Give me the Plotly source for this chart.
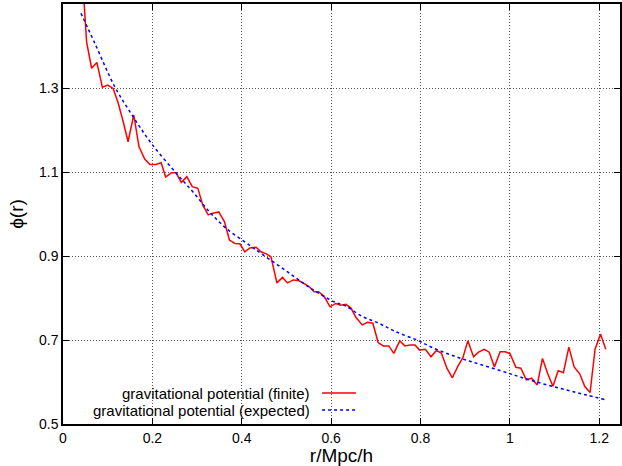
import plotly.graph_objects as go

# red: gravitational potential (finite)
r_finite = [0.0410, 0.0528, 0.0640, 0.0758, 0.0881, 0.1003, 0.1122, 0.1233, 0.1349, 0.1456,
            0.1583, 0.1701, 0.1828, 0.1946, 0.2074, 0.2196, 0.2297, 0.2424, 0.2531, 0.2647,
            0.2771, 0.2892, 0.3017, 0.3128, 0.3249, 0.3351, 0.3485, 0.3612, 0.3724, 0.3846,
            0.3958, 0.4069, 0.4181, 0.4319, 0.4430, 0.4548, 0.4653, 0.4787, 0.4912, 0.5023,
            0.5157, 0.5284, 0.5418, 0.5518, 0.5619, 0.5719, 0.5842, 0.5976, 0.6103, 0.6214,
            0.6332, 0.6444, 0.6562, 0.6696, 0.6818, 0.6934, 0.7052, 0.7168, 0.7291, 0.7402,
            0.7536, 0.7648, 0.7766, 0.7877, 0.7982, 0.8109, 0.8234, 0.8355, 0.8466, 0.8591,
            0.8713, 0.8834, 0.8948, 0.9059, 0.9186, 0.9298, 0.9427, 0.9538, 0.9654, 0.9782,
            0.9893, 1.0000, 1.0134, 1.0245, 1.0368, 1.0486, 1.0613, 1.0729, 1.0843, 1.0963,
            1.1081, 1.1197, 1.1320, 1.1438, 1.1565, 1.1677, 1.1795, 1.1906, 1.2029, 1.2145]
phi_finite = [1.605, 1.410, 1.347, 1.361, 1.302, 1.307, 1.299, 1.265, 1.219, 1.172,
              1.236, 1.160, 1.131, 1.118, 1.118, 1.122, 1.088, 1.098, 1.098, 1.075,
              1.089, 1.065, 1.061, 1.021, 0.998, 1.002, 1.005, 0.982, 0.938, 0.930,
              0.929, 0.910, 0.919, 0.921, 0.910, 0.905, 0.898, 0.836, 0.849, 0.836,
              0.843, 0.841, 0.833, 0.826, 0.815, 0.815, 0.804, 0.779, 0.787, 0.783,
              0.785, 0.776, 0.753, 0.736, 0.742, 0.740, 0.694, 0.686, 0.686, 0.668,
              0.698, 0.686, 0.688, 0.688, 0.676, 0.678, 0.660, 0.675, 0.669, 0.633,
              0.610, 0.637, 0.658, 0.698, 0.660, 0.671, 0.678, 0.671, 0.636, 0.672,
              0.672, 0.668, 0.635, 0.633, 0.605, 0.609, 0.593, 0.656, 0.621, 0.590,
              0.627, 0.622, 0.683, 0.636, 0.619, 0.589, 0.575, 0.678, 0.714, 0.678]

# blue: gravitational potential (expected)
r_expected = [0.0401, 0.0714, 0.1159, 0.1567, 0.1978, 0.2535, 0.2905, 0.3278, 0.3650, 0.4169,
              0.4430, 0.4800, 0.5173, 0.5545, 0.6065, 0.6326, 0.6696, 0.7068, 0.7440, 0.7960,
              0.8221, 0.8591, 0.8963, 0.9336, 0.9967, 1.0227, 1.0598, 1.0970, 1.1342, 1.1712,
              1.2123]
phi_expected = [1.478, 1.406, 1.303, 1.232, 1.168, 1.097, 1.053, 1.005, 0.966, 0.926,
                0.906, 0.879, 0.851, 0.823, 0.791, 0.781, 0.756, 0.740, 0.720, 0.698,
                0.684, 0.668, 0.654, 0.642, 0.621, 0.612, 0.600, 0.589, 0.579, 0.569,
                0.558]

x_ticks = [0, 0.2, 0.4, 0.6, 0.8, 1.0, 1.2]
x_ticklabels = ["0", "0.2", "0.4", "0.6", "0.8", "1", "1.2"]
y_ticks = [0.5, 0.7, 0.9, 1.1, 1.3]
y_ticklabels = ["0.5", "0.7", "0.9", "1.1", "1.3"]
legend_names = ["gravitational potential (finite)", "gravitational potential (expected)"]

RED = "#ff0000"
BLUE = "#0000ff"
FONT = "Liberation Sans, Arial, Helvetica, sans-serif"

fig = go.Figure()
fig.add_trace(go.Scatter(x=r_finite, y=phi_finite, mode="lines",
                         line=dict(color=RED, width=1.5), name=legend_names[0],
                         showlegend=False))
fig.add_trace(go.Scatter(x=r_expected, y=phi_expected, mode="lines", line_shape="spline",
                         line=dict(color=BLUE, width=1.5, dash="3px,3px"),
                         name=legend_names[1], showlegend=False))

axis_common = dict(
    showline=True, linecolor="black", linewidth=1.5, mirror="ticks",
    ticks="inside", ticklen=6, tickwidth=1, tickcolor="black",
    showgrid=True, gridcolor="#555555", griddash="1px,2px", gridwidth=1,
    zeroline=False, tickfont=dict(family=FONT, size=14, color="black"),
)

fig.update_xaxes(range=[0, 1.2464], tickvals=x_ticks, ticktext=x_ticklabels,
                 title=dict(text="r/Mpc/h", font=dict(family=FONT, size=19, color="black"),
                            standoff=1),
                 **axis_common)
fig.update_yaxes(range=[0.5, 1.5], tickvals=y_ticks, ticktext=y_ticklabels,
                 title=dict(text="ϕ(r)", font=dict(family=FONT, size=19, color="black"),
                            standoff=10),
                 **axis_common)

# legend drawn gnuplot-style: right-aligned text with sample lines to the right
legend_rows = [(0.0738, RED, "solid"), (0.0333, BLUE, "3px,3px")]
for (yp, col, dsh), name in zip(legend_rows, legend_names):
    fig.add_annotation(x=0.4472, y=yp, xref="paper", yref="paper", text=name,
                       showarrow=False, xanchor="right", yanchor="middle",
                       font=dict(family=FONT, size=15, color="black"))
    fig.add_shape(type="line", xref="paper", yref="paper", x0=0.4651, x1=0.526,
                  y0=yp, y1=yp, line=dict(color=col, width=1.5, dash=dsh))

fig.update_layout(
    width=622, height=466,
    margin=dict(l=63, r=0, t=4, b=42),
    plot_bgcolor="white", paper_bgcolor="white",
    font=dict(family=FONT, color="black"),
)

fig.write_html("out.html")
